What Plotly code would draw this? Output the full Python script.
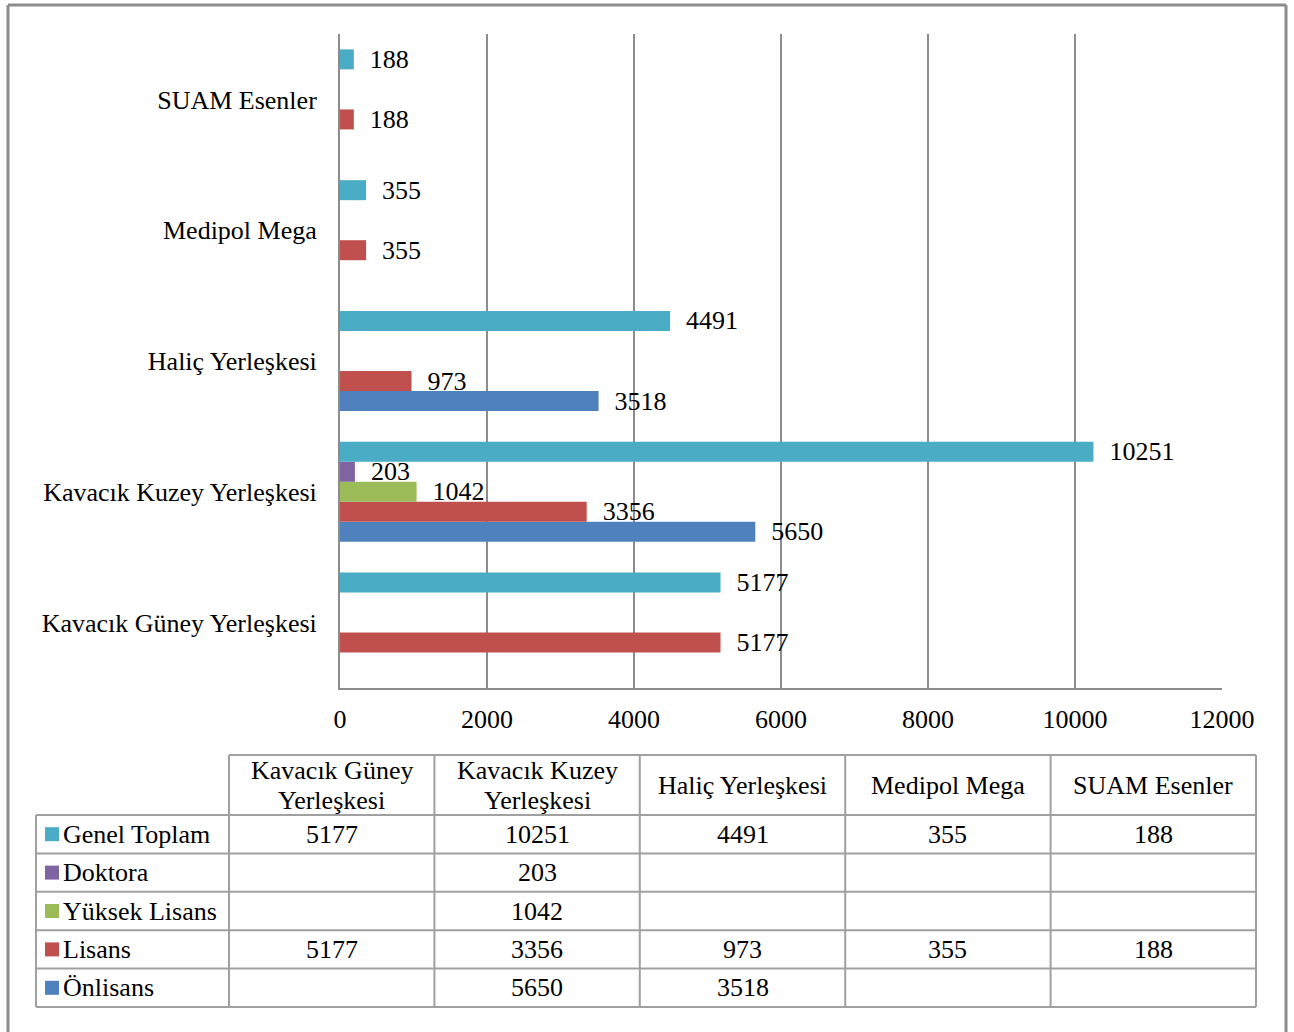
import plotly.graph_objects as go

W, H = 1294, 1032

categories = ["Kavacık Güney Yerleşkesi", "Kavacık Kuzey Yerleşkesi", "Haliç Yerleşkesi",
              "Medipol Mega", "SUAM Esenler"]
header_labels = ["Kavacık Güney<br>Yerleşkesi", "Kavacık Kuzey<br>Yerleşkesi", "Haliç Yerleşkesi",
                 "Medipol Mega", "SUAM Esenler"]

series_names = ["Önlisans", "Lisans", "Yüksek Lisans", "Doktora", "Genel Toplam"]
onlisans = [None, 5650, 3518, None, None]
lisans = [5177, 3356, 973, 355, 188]
yuksek_lisans = [None, 1042, None, None, None]
doktora = [None, 203, None, None, None]
genel_toplam = [5177, 10251, 4491, 355, 188]
series_values = [onlisans, lisans, yuksek_lisans, doktora, genel_toplam]
colors = ["#4F81BD", "#C0504D", "#9BBB59", "#8064A2", "#4BACC6"]

x_ticks = [0, 2000, 4000, 6000, 8000, 10000, 12000]
x_ticktext = ["0", "2000", "4000", "6000", "8000", "10000", "12000"]

FONT = "Liberation Serif, Times New Roman, serif"

def px(x):
    return x / W

def py(y):
    return 1 - y / H

fig = go.Figure()
for name, vals, col in zip(series_names, series_values, colors):
    fig.add_trace(go.Bar(
        y=categories, x=vals, name=name, orientation="h",
        marker=dict(color=col, line=dict(width=0)),
        text=[("\u00a0\u00a0" + str(v)) if v is not None else "" for v in vals],
        textposition="outside", constraintext="none", cliponaxis=False,
        textfont=dict(family=FONT, size=26, color="black"),
        hoverinfo="skip",
    ))

fig.update_layout(
    width=W, height=H,
    margin=dict(l=0, r=0, t=0, b=0, autoexpand=False),
    paper_bgcolor="white", plot_bgcolor="white",
    barmode="group", bargap=0.235, bargroupgap=0,
    showlegend=False,
    font=dict(family=FONT, size=26, color="black"),
    xaxis=dict(domain=[px(340), px(1222)], range=[0, 12000], tickvals=x_ticks, ticktext=x_ticktext,
               showgrid=True, gridcolor="#8c8c8c", gridwidth=2, zeroline=False,
               showline=True, linecolor="#8c8c8c", linewidth=2, mirror=False,
               ticks="", ticklabelstandoff=7, automargin=False,
               tickfont=dict(family=FONT, size=26, color="black"), fixedrange=True),
    yaxis=dict(domain=[py(688), py(34)], categoryorder="array", categoryarray=categories,
               showgrid=False, zeroline=False, showline=True, linecolor="#8c8c8c", linewidth=2,
               ticks="", ticklabelstandoff=16, automargin=False,
               tickfont=dict(family=FONT, size=26, color="black"), fixedrange=True),
)

shapes = []
annotations = []

border = dict(xref="paper", yref="paper", type="line", line=dict(color="#8c8c8c", width=3), layer="above")
shapes.append(dict(border, x0=px(8), x1=px(8), y0=0, y1=py(5)))
shapes.append(dict(border, x0=px(8), x1=px(1286), y0=py(5), y1=py(5)))
shapes.append(dict(border, x0=px(1286), x1=px(1286), y0=0, y1=py(5)))

col_edges = [36, 229, 434.4, 639.8, 845.2, 1050.6, 1256]
row_edges = [755, 815, 853.4, 891.8, 930.2, 968.6, 1007]
line_col = "#a0a0a0"
lw = 2
for i, y in enumerate(row_edges):
    x0 = col_edges[1] if i == 0 else col_edges[0]
    shapes.append(dict(type="line", xref="paper", yref="paper", x0=px(x0), x1=px(col_edges[-1]),
                       y0=py(y), y1=py(y), line=dict(color=line_col, width=lw)))
for j, x in enumerate(col_edges):
    y0 = row_edges[1] if j == 0 else row_edges[0]
    shapes.append(dict(type="line", xref="paper", yref="paper", x0=px(x), x1=px(x),
                       y0=py(y0), y1=py(row_edges[-1]), line=dict(color=line_col, width=lw)))

TFS = 26
LINE_H = 30
for j, lab in enumerate(header_labels):
    cx = (col_edges[j + 1] + col_edges[j + 2]) / 2
    cy = (row_edges[0] + row_edges[1]) / 2
    parts = lab.split("<br>")
    n = len(parts)
    for k, part in enumerate(parts):
        ly = cy + (k - (n - 1) / 2) * LINE_H
        annotations.append(dict(xref="paper", yref="paper", x=px(cx), y=py(ly), text=part,
                                showarrow=False, xanchor="center", yanchor="middle",
                                font=dict(family=FONT, size=TFS, color="black")))

table_rows = list(zip(series_names, series_values, colors))[::-1]
for i, (name, vals, col) in enumerate(table_rows):
    y_top, y_bot = row_edges[i + 1], row_edges[i + 2]
    cy = (y_top + y_bot) / 2
    shapes.append(dict(type="rect", xref="paper", yref="paper", x0=px(45), x1=px(59),
                       y0=py(cy + 7), y1=py(cy - 7), line=dict(width=0), fillcolor=col))
    annotations.append(dict(xref="paper", yref="paper", x=px(61), y=py(cy), text=name,
                            showarrow=False, xanchor="left", yanchor="middle",
                            font=dict(family=FONT, size=TFS, color="black")))
    for j, v in enumerate(vals):
        if v is None:
            continue
        cx = (col_edges[j + 1] + col_edges[j + 2]) / 2
        annotations.append(dict(xref="paper", yref="paper", x=px(cx), y=py(cy), text=str(v),
                                showarrow=False, xanchor="center", yanchor="middle",
                                font=dict(family=FONT, size=TFS, color="black")))

fig.update_layout(shapes=shapes, annotations=annotations)

fig.write_html("out.html", config={"displayModeBar": False},
               post_script="document.body.style.margin='0';")
